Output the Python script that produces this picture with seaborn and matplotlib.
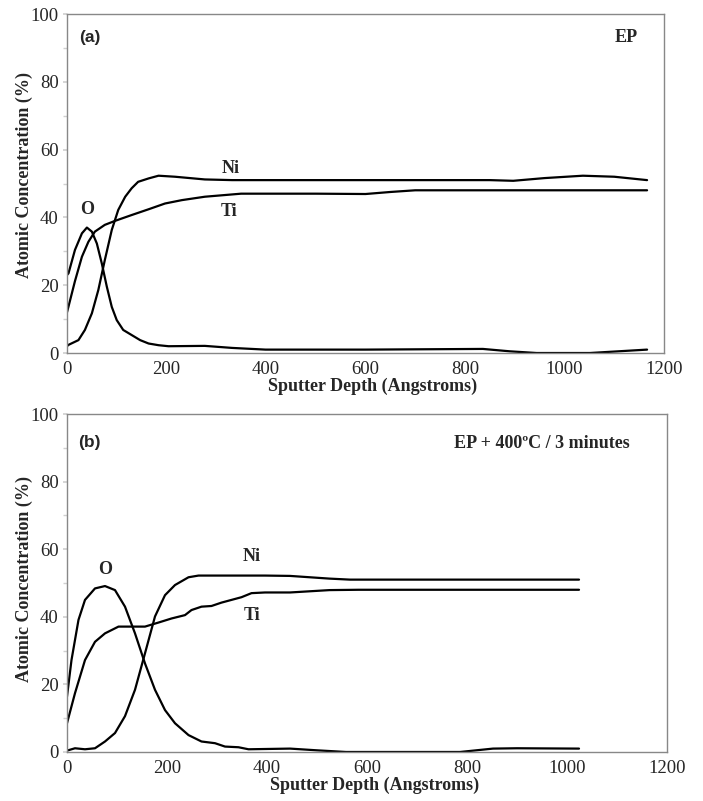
import matplotlib
matplotlib.use("Agg")
import matplotlib.pyplot as plt
import seaborn as sns
import numpy as np
import pandas as pd

# ---- data (depth in Angstroms, concentration in %) ----
# (a) EP
a_ni_x = [0, 3, 23, 36, 50, 63, 76, 90, 103, 117, 130, 143, 164, 184, 217, 277, 332,
          500, 700, 850, 897, 960, 1037, 1100, 1166]
a_ni_y = [2, 2.4, 3.8, 6.8, 11.7, 18.6, 27.4, 36.3, 42.2, 46.1, 48.6, 50.5, 51.5, 52.3, 52, 51.2, 51,
          51, 51, 51, 50.8, 51.6, 52.3, 52, 51]

a_ti_x = [0, 3, 16, 30, 43, 56, 76, 97, 130, 164, 197, 231, 277, 350, 500, 600, 650, 700, 900, 1166]
a_ti_y = [12, 13.7, 21.2, 28.4, 32.8, 35.8, 37.8, 39, 40.7, 42.4, 44.1, 45.1, 46.1, 47, 47, 46.9, 47.5, 48, 48, 48]

a_o_x = [0, 3, 16, 30, 40, 50, 60, 70, 80, 90, 100, 113, 130, 147, 164, 184, 204, 277, 332, 399,
         600, 836, 890, 944, 1051, 1166]
a_o_y = [23, 23.5, 30.4, 35.3, 37, 35.8, 32.3, 26.4, 19.6, 13.6, 9.7, 6.8, 5.3, 3.8, 2.8, 2.3, 2, 2.1, 1.5, 1,
         1, 1.2, 0.5, 0, 0, 1]

# (b) EP + 400C / 3 minutes
b_ni_x = [0, 16, 36, 56, 76, 96, 116, 136, 156, 176, 196, 216, 243, 263, 396, 446, 525, 566, 800, 1024]
b_ni_y = [0.4, 1.1, 0.8, 1.1, 3.1, 5.6, 10.6, 18.4, 29.2, 40.1, 46.4, 49.4, 51.7, 52.2, 52.2, 52.1, 51.3, 51, 51, 51]

b_ti_x = [0, 16, 36, 56, 76, 103, 129, 156, 183, 209, 236, 249, 269, 289, 309, 329, 349, 369, 396,
          446, 525, 583, 1024]
b_ti_y = [8.5, 17.4, 27.2, 32.6, 35.1, 37.1, 37.1, 37.1, 38.3, 39.5, 40.5, 42, 43, 43.2, 44.2, 45, 45.8, 47, 47.2,
          47.2, 47.9, 48, 48]

b_o_x = [0, 9, 23, 36, 56, 76, 96, 116, 136, 156, 176, 196, 216, 243, 269, 296, 316, 343, 363,
         446, 499, 558, 786, 852, 900, 1024]
b_o_y = [16.4, 27.2, 39.1, 45, 48.4, 49.1, 47.9, 43, 35.1, 26.2, 18.4, 12.4, 8.5, 5, 3.1, 2.6, 1.6, 1.4, 0.8,
         1, 0.5, 0, 0, 1, 1.1, 1]

x_ticks = [0, 200, 400, 600, 800, 1000, 1200]
y_ticks = [0, 20, 40, 60, 80, 100]

sns.set_theme(style="white")
plt.rcParams["font.family"] = ["Liberation Serif", "DejaVu Serif"]

fig = plt.figure(figsize=(7.03, 8.01), dpi=100)
ax_a = fig.add_axes([0.0953, 0.5593, 0.8492, 0.4232])
ax_b = fig.add_axes([0.0953, 0.0612, 0.8535, 0.4219])


def make_frame(series):
    frames = []
    for name, xs, ys in series:
        frames.append(pd.DataFrame({"depth": xs, "conc": ys, "element": name}))
    return pd.concat(frames, ignore_index=True)


def draw_panel(ax, df, label, title, notes, ylab_y):
    sns.lineplot(data=df, x="depth", y="conc", units="element", estimator=None,
                 color="black", linewidth=1.6, sort=False, ax=ax, legend=False)
    ax.set_xlim(0, 1200)
    ax.set_ylim(0, 100)
    ax.set_xticks(x_ticks)
    ax.set_yticks(y_ticks)
    ax.set_yticks(np.arange(10, 100, 20), minor=True)
    ax.tick_params(axis="both", which="major", labelsize=13.5, length=3,
                   color="#d0d0d0", direction="out", pad=3)
    ax.tick_params(axis="x", length=0, pad=6)
    ax.tick_params(axis="y", which="minor", length=3, color="#d0d0d0", left=True)
    ax.tick_params(axis="y", which="major", left=True)
    for sp in ax.spines.values():
        sp.set_color("#888888")
        sp.set_linewidth(1.0)
    ax.set_xlabel("Sputter Depth (Angstroms)", fontsize=13, fontweight="bold")
    ax.set_ylabel("Atomic Concentration (%)", fontsize=13, fontweight="bold")
    ax.xaxis.set_label_coords(0.512, -0.074)
    ax.yaxis.set_label_coords(-0.057, ylab_y)
    lx, ly = label[1]
    ax.text(lx, ly, label[0], fontsize=12.5, fontweight="bold",
            family=["Liberation Sans", "DejaVu Sans"], ha="center", va="center")
    tx, ty = title[1]
    ax.text(tx, ty, title[0], fontsize=13, fontweight="bold", ha="center", va="center")
    for txt, (x, y) in notes:
        ax.text(x, y, txt, fontsize=13, fontweight="bold", ha="center", va="center")


df_a = make_frame([("Ni", a_ni_x, a_ni_y), ("Ti", a_ti_x, a_ti_y), ("O", a_o_x, a_o_y)])
df_b = make_frame([("Ni", b_ni_x, b_ni_y), ("Ti", b_ti_x, b_ti_y), ("O", b_o_x, b_o_y)])

draw_panel(ax_a, df_a, ("(a)", (46, 93)), ("EP", (1124, 93)),
           [("Ni", (329, 54.5)), ("Ti", (326, 41.6)), ("O", (40, 42.2))], 0.525)
draw_panel(ax_b, df_b, ("(b)", (44, 91.7)), ("EP + 400ºC / 3 minutes", (950, 91.4)),
           [("Ni", (370, 57.7)), ("Ti", (370, 40.5)), ("O", (76, 54))], 0.512)

fig.savefig("out.png", dpi=100, facecolor="white")
